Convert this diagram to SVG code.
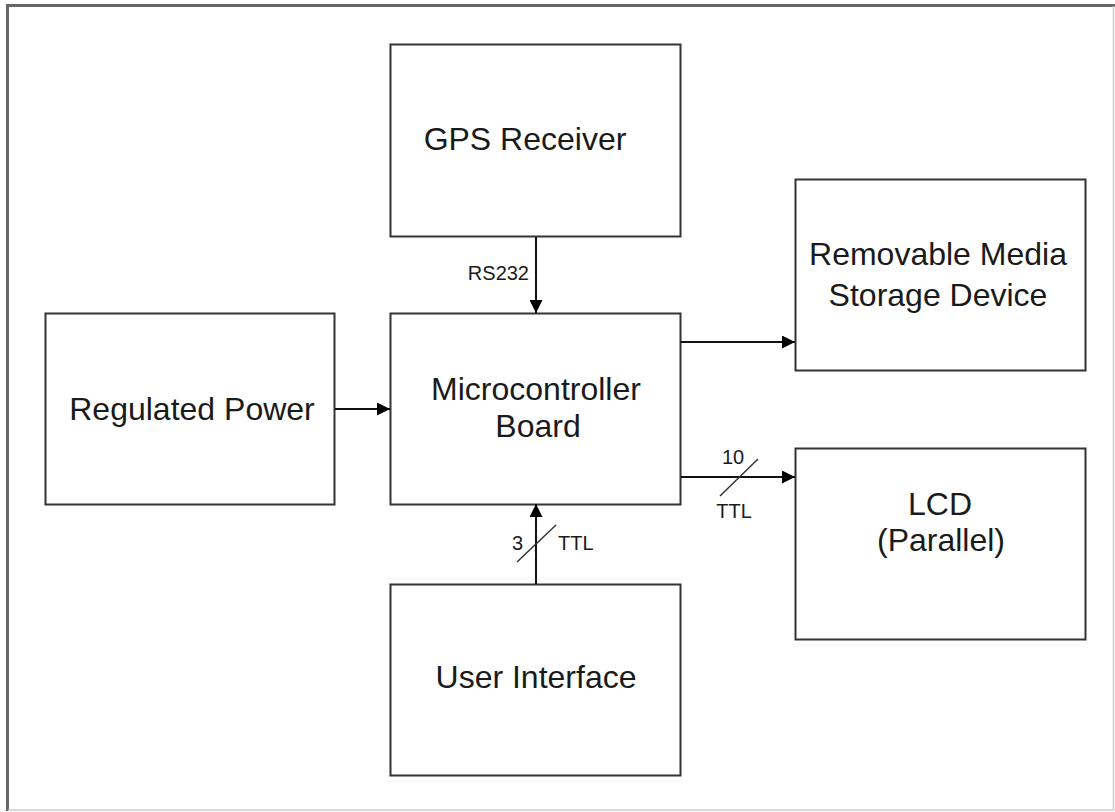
<svg xmlns="http://www.w3.org/2000/svg" width="1115" height="812" viewBox="0 0 1115 812">
<style>
.box{fill:#fff;stroke:#333;stroke-width:2}
.t{font-family:"Liberation Sans",Arial,sans-serif;font-size:32px;fill:#1a1a1a;text-anchor:middle}
.s{font-family:"Liberation Sans",Arial,sans-serif;font-size:20px;fill:#1a1a1a}
.c{stroke:#111;stroke-width:2;fill:none}
</style>
<defs>
<marker id="ah" markerWidth="13" markerHeight="13" refX="13" refY="6.5" orient="auto" markerUnits="userSpaceOnUse" viewBox="0 0 13 13">
<path d="M0,0 L13,6.5 L0,13 z" fill="#000"/>
</marker>
</defs>
<rect x="0" y="0" width="1115" height="812" fill="#fff"/>
<path d="M7.5,811 V5.5 H1115" fill="none" stroke="#666" stroke-width="3"/>
<path d="M8,810 H1113.5 V6" fill="none" stroke="#ccc" stroke-width="1.5"/>
<g id="gps"><rect class="box" x="390.5" y="44.5" width="290" height="192"/><text class="t" x="525" y="150">GPS Receiver</text></g>
<g id="media"><rect class="box" x="795.5" y="179.5" width="290" height="191"/><text class="t" x="938" y="265">Removable Media</text><text class="t" x="938" y="306">Storage Device</text></g>
<g id="power"><rect class="box" x="45.5" y="313.5" width="289" height="191"/><text class="t" x="192" y="420">Regulated Power</text></g>
<g id="micro"><rect class="box" x="390.5" y="313.5" width="290" height="191"/><text class="t" x="536" y="400">Microcontroller</text><text class="t" x="538" y="437">Board</text></g>
<g id="lcd"><rect class="box" x="795.5" y="448.5" width="290" height="191"/><text class="t" x="940" y="515">LCD</text><text class="t" x="941" y="551">(Parallel)</text></g>
<g id="ui"><rect class="box" x="390.5" y="584.5" width="290" height="191"/><text class="t" x="536" y="688">User Interface</text></g>
<g id="connectors">
<line class="c" x1="536" y1="237" x2="536" y2="313" marker-end="url(#ah)"/>
<text class="s" x="529" y="280" text-anchor="end">RS232</text>
<line class="c" x1="335" y1="409" x2="390" y2="409" marker-end="url(#ah)"/>
<line class="c" x1="681" y1="342" x2="795" y2="342" stroke-width="3" stroke="#333" marker-end="url(#ah)"/>
<line class="c" x1="681" y1="477" x2="795" y2="477" marker-end="url(#ah)"/>
<line x1="720" y1="496" x2="758" y2="459" stroke="#333" stroke-width="1.5"/>
<text class="s" x="733" y="464" text-anchor="middle">10</text>
<text class="s" x="734" y="518" text-anchor="middle">TTL</text>
<line class="c" x1="536" y1="584" x2="536" y2="504" marker-end="url(#ah)"/>
<line x1="517" y1="562" x2="556" y2="525" stroke="#333" stroke-width="1.5"/>
<text class="s" x="523" y="550" text-anchor="end">3</text>
<text class="s" x="558" y="550">TTL</text>
</g>
</svg>
